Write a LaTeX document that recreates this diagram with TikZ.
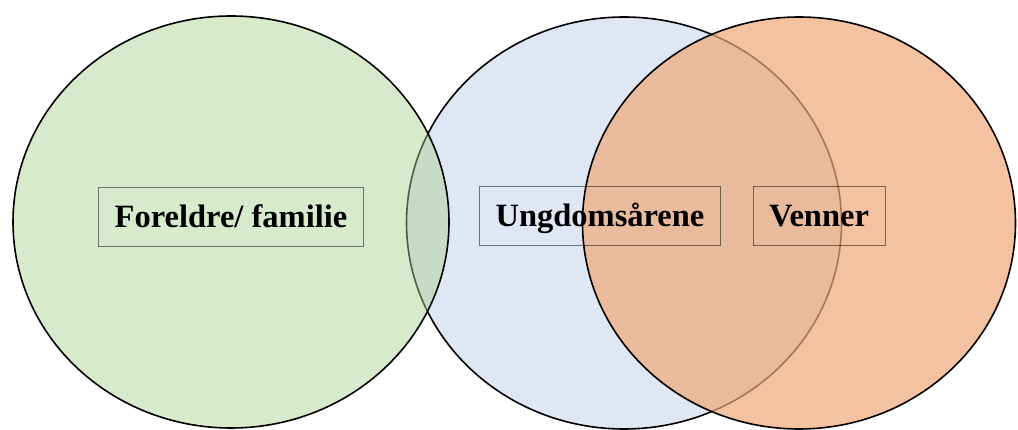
\documentclass[tikz,border=0pt]{standalone}
\usepackage{fontspec}
\setmainfont{Liberation Serif}
\definecolor{blaa}{HTML}{DFE6F4}
\definecolor{groenn}{HTML}{A9D18E}
\definecolor{oransje}{HTML}{F0A878}
\tikzset{
  sirkel/.style={draw=black, line width=1.6pt},
  boks/.style={draw=black, draw opacity=0.5, line width=0.9pt,
    minimum height=59pt, inner xsep=16pt, text height=21.5pt, text depth=0pt,
    font=\fontsize{32.5}{36}\selectfont\bfseries}
}
\begin{document}
\begin{tikzpicture}[x=1pt,y=-1pt]
    \useasboundingbox (0,0) rectangle (1018,430);
    % Sirkler
    \draw[sirkel, fill=blaa] (624,223) ellipse [x radius=217.5, y radius=206];
    \draw[sirkel, fill=groenn, fill opacity=0.45] (231,222) ellipse [x radius=218, y radius=206];
    \draw[sirkel, fill=oransje, fill opacity=0.7] (799,223) ellipse [x radius=216.5, y radius=206];
    % Tekst
    \node[boks] (familie) at (231,216.5) {Foreldre/ familie};
    \node[boks] (ungdom) at (600,215.5) {Ungdomsårene};
    \node[boks] (venner) at (819,216) {Venner};
\end{tikzpicture}
\end{document}
